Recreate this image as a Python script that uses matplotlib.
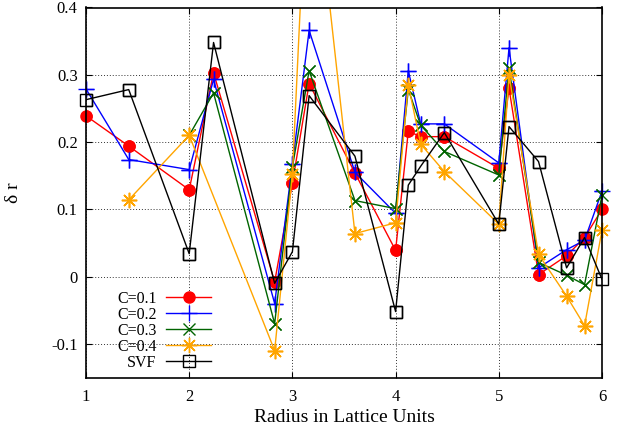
import numpy as np
import matplotlib
matplotlib.use("Agg")
import matplotlib.pyplot as plt

plt.rcParams['font.family'] = ['Liberation Serif', 'DejaVu Serif']
plt.rcParams['axes.unicode_minus'] = False

# radius of each lattice shell
radius = [1.0, 1.414, 2.0, 2.236, 2.828, 3.0, 3.162, 3.606, 4.0,
          4.123, 4.243, 4.472, 5.0, 5.099, 5.385, 5.657, 5.831, 6.0]

c01 = [0.239, 0.194, 0.129, 0.303, -0.008, 0.139, 0.287, 0.154, 0.039,
       0.216, 0.208, 0.208, 0.161, 0.280, 0.003, 0.031, 0.058, 0.100]
c02 = [0.279, 0.174, 0.159, 0.293, -0.040, 0.167, 0.366, 0.155, 0.094,
       0.306, 0.227, 0.227, 0.169, 0.340, 0.013, 0.040, 0.054, 0.127]
c03 = [np.nan, np.nan, 0.210, 0.273, -0.070, 0.163, 0.306, 0.113, 0.101,
       0.278, 0.225, 0.186, 0.151, 0.310, 0.021, 0.002, -0.012, 0.121]
c04 = [np.nan, 0.114, 0.210, np.nan, -0.110, 0.153, 0.680, 0.064, 0.080,
       0.285, 0.197, 0.156, 0.078, 0.300, 0.033, -0.029, -0.073, 0.069]
svf = [0.263, 0.278, 0.034, 0.348, -0.010, 0.037, 0.269, 0.179, -0.052,
       0.136, 0.164, 0.214, 0.078, 0.223, 0.171, 0.013, 0.058, -0.004]

labels = ['C=0.1', 'C=0.2', 'C=0.3', 'C=0.4', 'SVF']
xticks = [1, 2, 3, 4, 5, 6]
yticks = [-0.1, 0, 0.1, 0.2, 0.3, 0.4]
ytick_labels = ['-0.1', '0', '0.1', '0.2', '0.3', '0.4']
ylo, yhi = -0.15, 0.4

fig = plt.figure(figsize=(6.21, 4.32), dpi=100)
ax = fig.add_axes([86 / 621, 1 - 377.5 / 432, 516 / 621, 370 / 432])

styles = [
    dict(color='#ff0000', marker='o', ms=8, mfc='#ff0000', mec='#ff0000'),
    dict(color='#0000ff', marker='+', ms=11, mew=1.0),
    dict(color='#006400', marker='x', ms=8, mew=1.0),
    dict(color='#ffa500', marker=(8, 2, 0), ms=11, mew=1.0),
    dict(color='black', marker='s', ms=9, mfc='none', mec='black', mew=1.0),
]

x = np.array(radius)
for ys, lab, st in zip([c01, c02, c03, c04, svf], labels, styles):
    y = np.array(ys)
    ok = ~np.isnan(y)
    ax.plot(x[ok], y[ok], lw=1.0, label=lab, **st)
    # points on the frame are drawn whole, like gnuplot does
    inside = ok & (y >= ylo) & (y <= yhi)
    ax.plot(x[inside], y[inside], ls='none', clip_on=False, **st)

ax.set_xlim(1, 6)
ax.set_ylim(ylo, yhi)
ax.set_xticks(xticks)
ax.set_yticks(yticks)
ax.set_yticklabels(ytick_labels)
ax.tick_params(direction='in', length=4, width=0.8, labelsize=12,
               top=True, right=True, pad=6)
ax.tick_params(axis='x', pad=8)
ax.grid(True, linestyle=(0, (1, 2)), color='#333333', lw=0.7)
for s in ax.spines.values():
    s.set_linewidth(1.2)

ax.set_xlabel('Radius in Lattice Units', fontsize=14, labelpad=3)
ax.set_ylabel('δ r', fontsize=14)
ax.yaxis.set_label_coords(-0.124, 0.5)

leg = ax.legend(loc='upper right', bbox_to_anchor=(211 / 621, 1 - 291 / 432),
                bbox_transform=fig.transFigure, frameon=False, markerfirst=False,
                fontsize=11.5, handlelength=2.8, handletextpad=0.6,
                labelspacing=0.0, borderpad=0, borderaxespad=0)

fig.savefig('out.png', dpi=100)
